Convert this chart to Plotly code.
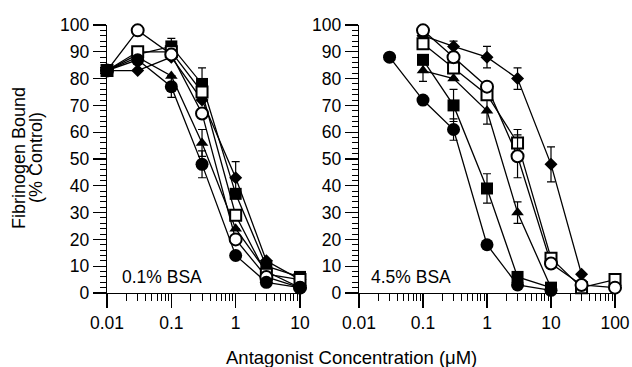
import plotly.graph_objects as go

# ---------------- data ----------------
x_left = [0.01, 0.03, 0.1, 0.3, 1, 3, 10]
left_fc = [83, 87, 77, 48, 14, 4, 2]
left_fc_err = [0, 0, 4, 5, 0, 0, 0]
left_fs = [83, 89, 92, 78, 37, 10, 6]
left_fs_err = [0, 0, 3, 6, 0, 0, 0]
left_ft = [83, 88, 81, 56, 24, 8, 2]
left_ft_err = [0, 0, 0, 5, 0, 0, 0]
left_fd = [83, 83, 88, 72, 43, 12, 5]
left_fd_err = [0, 0, 0, 0, 6, 0, 0]
left_os = [83, 90, 90, 75, 29, 7, 5]
left_os_err = [0, 0, 0, 0, 0, 0, 0]
left_oc = [83, 98, 89, 67, 20, 6, 2]
left_oc_err = [0, 0, 0, 0, 0, 0, 0]

x_right_fc = [0.03, 0.1, 0.3, 1, 3, 10]
right_fc = [88, 72, 61, 18, 3, 1]
right_fc_err = [0, 0, 4, 0, 0, 0]
x_right_fs = [0.1, 0.3, 1, 3, 10]
right_fs = [87, 70, 39, 6, 2]
right_fs_err = [0, 6, 5.5, 0, 0]
x_right_ft = [0.1, 0.3, 1, 3, 10]
right_ft = [83, 80, 68, 30, 2]
right_ft_err = [4, 0, 5, 4, 0]
x_right_fd = [0.1, 0.3, 1, 3, 10, 30]
right_fd = [96, 92, 88, 80, 48, 7]
right_fd_err = [0, 2, 4, 4, 6.5, 0]
x_right_os = [0.1, 0.3, 1, 3, 10, 30, 100]
right_os = [93, 84, 74, 56, 13, 2, 5]
right_os_err = [0, 0, 0, 5, 0, 0, 0]
x_right_oc = [0.1, 0.3, 1, 3, 10, 30, 100]
right_oc = [98, 88, 77, 51, 11, 3, 2]
right_oc_err = [0, 0, 0, 8, 0, 0, 0]

left_ticks = [0.01, 0.1, 1, 10]
left_ticktext = ["0.01", "0.1", "1", "10"]
right_ticks = [0.01, 0.1, 1, 10, 100]
right_ticktext = ["0.01", "0.1", "1", "10", "100"]

x_title = "Antagonist Concentration (\u03bcM)"
y_title_1 = "Fibrinogen Bound"
y_title_2 = "(% Control)"
panel_left = "0.1% BSA"
panel_right = "4.5% BSA"

# ---------------- styles ----------------
FONT = "Liberation Sans, Arial, Helvetica, sans-serif"
styles = {
    "fc": dict(symbol="circle", size=13, color="black", line=dict(color="black", width=0)),
    "fs": dict(symbol="square", size=12, color="black", line=dict(color="black", width=0)),
    "ft": dict(symbol="triangle-up", size=11, color="black", line=dict(color="black", width=0)),
    "fd": dict(symbol="diamond", size=10, color="black", line=dict(color="black", width=0)),
    "os": dict(symbol="square", size=11, color="white", line=dict(color="black", width=2)),
    "oc": dict(symbol="circle", size=12, color="white", line=dict(color="black", width=2)),
}

left_series = [
    ("fs", x_left, left_fs, left_fs_err),
    ("ft", x_left, left_ft, left_ft_err),
    ("fd", x_left, left_fd, left_fd_err),
    ("os", x_left, left_os, left_os_err),
    ("oc", x_left, left_oc, left_oc_err),
    ("fc", x_left, left_fc, left_fc_err),
]
right_series = [
    ("fc", x_right_fc, right_fc, right_fc_err),
    ("fs", x_right_fs, right_fs, right_fs_err),
    ("ft", x_right_ft, right_ft, right_ft_err),
    ("fd", x_right_fd, right_fd, right_fd_err),
    ("os", x_right_os, right_os, right_os_err),
    ("oc", x_right_oc, right_oc, right_oc_err),
]

fig = go.Figure()

for series, xa, ya in [(left_series, "x", "y"), (right_series, "x2", "y2")]:
    for key, xs, ys, es in series:
        fig.add_trace(go.Scatter(x=xs, y=ys, mode="lines", xaxis=xa, yaxis=ya,
                                 line=dict(color="black", width=1.3),
                                 showlegend=False, hoverinfo="skip", cliponaxis=False))
    for key, xs, ys, es in series:
        fig.add_trace(go.Scatter(x=xs, y=ys, mode="markers", xaxis=xa, yaxis=ya,
                                 marker=styles[key],
                                 error_y=dict(type="data", array=es, visible=True,
                                              color="black", thickness=1.2, width=4),
                                 showlegend=False, cliponaxis=False))

ydom = [(367 - 293) / 367, (367 - 25) / 367]
common_x = dict(type="log", showline=True, linecolor="black", linewidth=1.3,
                ticks="outside", ticklen=14, tickwidth=1.3, tickcolor="black",
                tickmode="array", showgrid=False, zeroline=False, automargin=False,
                tickfont=dict(family=FONT, size=17.5, color="black"),
                minor=dict(ticks="outside", ticklen=7, tickwidth=1, tickcolor="black",
                           dtick="D1", showgrid=False))
common_y = dict(range=[0, 100], showline=True, linecolor="black", linewidth=1.3,
                ticks="outside", ticklen=13, tickwidth=1.3, tickcolor="black",
                tickmode="linear", tick0=0, dtick=10, showgrid=False, zeroline=False,
                automargin=False,
                tickfont=dict(family=FONT, size=17.5, color="black"),
                minor=dict(ticks="outside", ticklen=6, tickwidth=1, tickcolor="black",
                           dtick=2, showgrid=False))

fig.update_layout(
    width=632, height=367,
    margin=dict(l=0, r=0, t=0, b=0, autoexpand=False),
    paper_bgcolor="white", plot_bgcolor="white",
    xaxis=dict(common_x, domain=[107 / 632, 300 / 632], range=[-2, 1],
               tickvals=left_ticks, ticktext=left_ticktext, anchor="y"),
    yaxis=dict(common_y, domain=ydom, anchor="x"),
    xaxis2=dict(common_x, domain=[359 / 632, 615 / 632], range=[-2, 2],
                tickvals=right_ticks, ticktext=right_ticktext, anchor="y2"),
    yaxis2=dict(common_y, domain=ydom, anchor="x2"),
    font=dict(family=FONT, color="black"),
)

annos = [
    dict(text=x_title, x=351 / 632, y=(367 - 357) / 367, size=18.5, angle=0),
    dict(text=y_title_1, x=19 / 632, y=(367 - 158) / 367, size=18, angle=-90),
    dict(text=y_title_2, x=36 / 632, y=(367 - 158) / 367, size=18, angle=-90),
    dict(text=panel_left, x=162 / 632, y=(367 - 277) / 367, size=17.5, angle=0),
    dict(text=panel_right, x=411 / 632, y=(367 - 277) / 367, size=17.5, angle=0),
]
for a in annos:
    fig.add_annotation(text=a["text"], x=a["x"], y=a["y"], xref="paper", yref="paper",
                       showarrow=False, xanchor="center", yanchor="middle",
                       textangle=a["angle"],
                       font=dict(family=FONT, size=a["size"], color="black"))

fig.write_html("out.html",
               config={"displayModeBar": False, "staticPlot": True},
               post_script="document.body.style.margin='0';document.body.style.padding='0';"
                           "document.body.style.overflow='hidden';")
